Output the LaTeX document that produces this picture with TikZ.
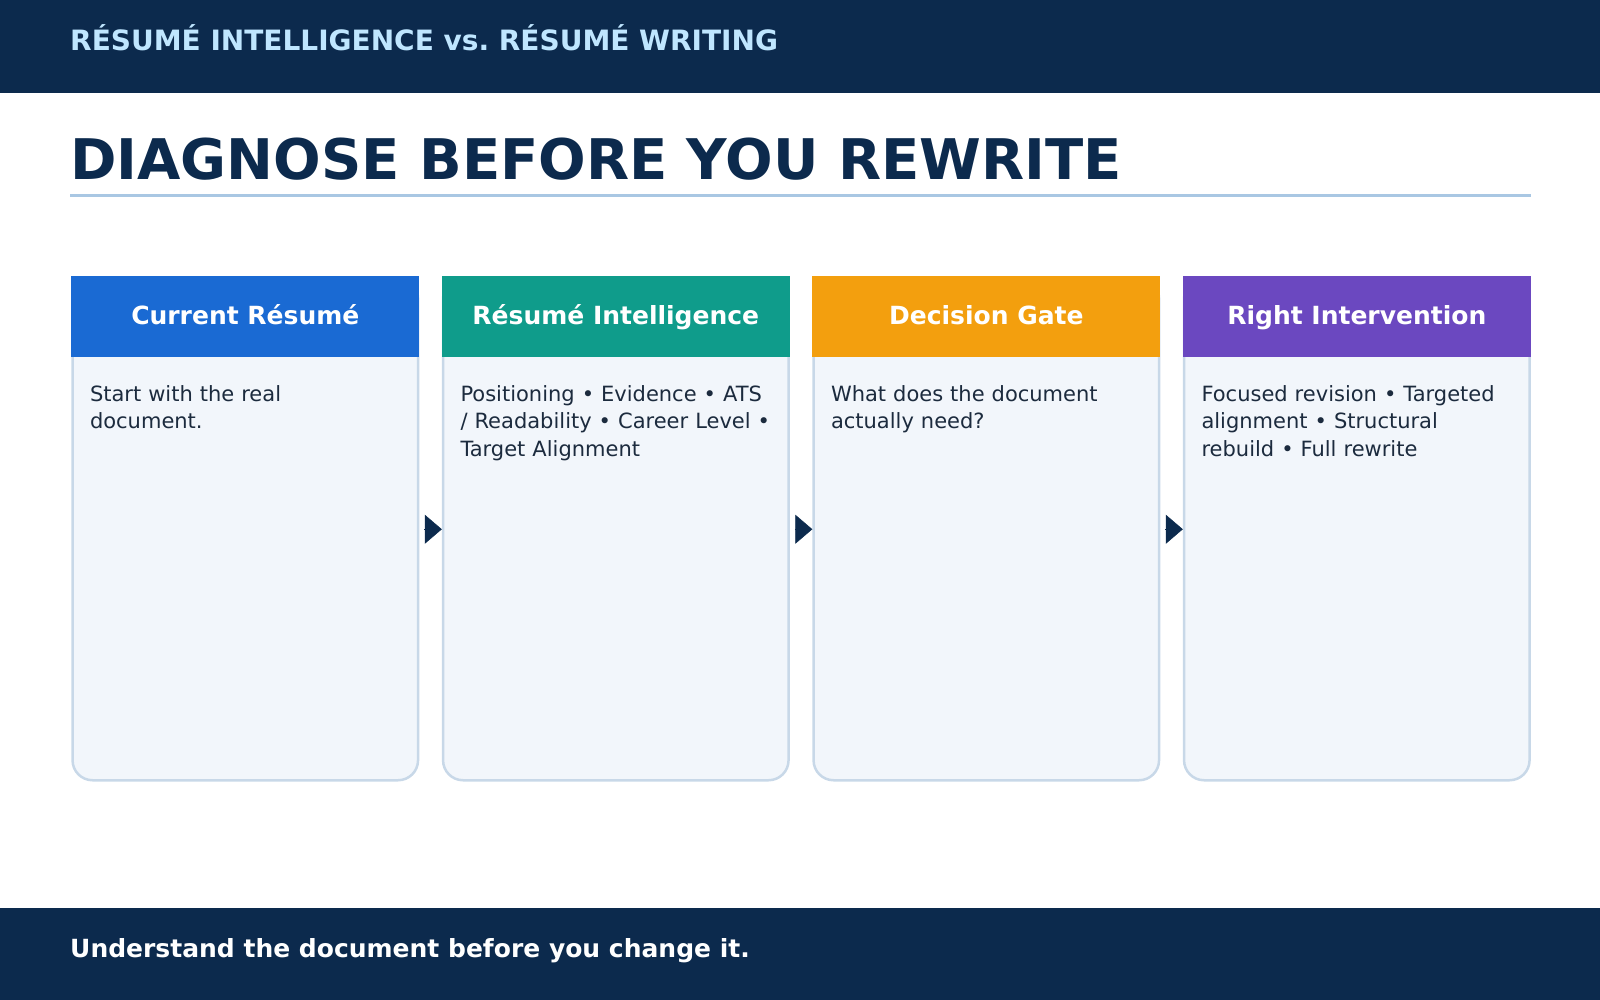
\documentclass[tikz,border=0pt]{standalone}
\usepackage{fontspec}
\setmainfont{DejaVu Sans}
\usetikzlibrary{arrows.meta,positioning}

\definecolor{navy}{HTML}{0C2A4D}
\definecolor{paleblue}{HTML}{BFE6FF}
\definecolor{rulecol}{HTML}{A9C7E3}
\definecolor{cardfill}{HTML}{F2F6FB}
\definecolor{cardline}{HTML}{C8D8E8}
\definecolor{bluehead}{HTML}{1A6AD3}
\definecolor{tealhead}{HTML}{0F9C8B}
\definecolor{orangehead}{HTML}{F39F0E}
\definecolor{purplehead}{HTML}{6B48C0}
\definecolor{bodytext}{HTML}{1C2B3E}

\tikzset{
  card/.style={draw=cardline, line width=2.5pt, fill=cardfill, rounded corners=20pt,
    minimum width=345.5pt, minimum height=502pt, inner sep=0pt, anchor=north west},
  cardhead/.style={minimum width=348pt, minimum height=81pt, inner sep=0pt, anchor=north,
    text height=21pt, text depth=5pt,
    text=white, font=\fontsize{25}{30}\selectfont\bfseries},
  cardtext/.style={anchor=base west, inner sep=0pt, text width=320pt, align=left,
    text=bodytext, font=\fontsize{21}{27.6}\selectfont},
  flowarrow/.style={-{Triangle[length=17pt,width=29pt]}, navy, line width=0.5pt, shorten <=5pt}
}

\begin{document}
\frenchspacing
\begin{tikzpicture}[x=1pt,y=-1pt]
    \useasboundingbox (0,0) rectangle (1600,1000);

    % Barra superiore
    \fill[navy] (0,0) rectangle (1600,93);
    \node[anchor=base west, inner sep=0pt, text=paleblue, font=\fontsize{28}{33}\selectfont\bfseries]
        (kicker) at (70,51) {RÉSUMÉ INTELLIGENCE vs. RÉSUMÉ WRITING};

    % Titolo
    \node[anchor=base west, inner sep=0pt, text=navy, font=\fontsize{56}{67}\selectfont\bfseries]
        (title) at (70,180) {DIAGNOSE BEFORE YOU REWRITE};
    \draw[rulecol, line width=3pt] (70,196) -- (1531,196);

    % Schede
    \node[card] (c1) at (71.3,277) {};
    \node[card] (c2) at (441.8,277) {};
    \node[card] (c3) at (812.3,277) {};
    \node[card] (c4) at (1182.8,277) {};

    % Intestazioni
    \node[cardhead, fill=bluehead] (h1) at ([yshift=1.25pt]c1.north) {Current Résumé};
    \node[cardhead, fill=tealhead] (h2) at ([yshift=1.25pt]c2.north) {Résumé Intelligence};
    \node[cardhead, fill=orangehead] (h3) at ([yshift=1.25pt]c3.north) {Decision Gate};
    \node[cardhead, fill=purplehead] (h4) at ([yshift=1.25pt]c4.north) {Right Intervention};

    % Testi
    \node[cardtext] (t1) at ([shift={(18.5,124)}]c1.north west) {Start with the real\\document.};
    \node[cardtext] (t2) at ([shift={(18.5,124)}]c2.north west) {Positioning • Evidence • ATS\\/ Readability • Career Level •\\Target Alignment};
    \node[cardtext] (t3) at ([shift={(18.5,124)}]c3.north west) {What does the document\\actually need?};
    \node[cardtext] (t4) at ([shift={(18.5,124)}]c4.north west) {Focused revision • Targeted\\alignment • Structural\\rebuild • Full rewrite};

    % Frecce
    \draw[flowarrow] (c1.east) -- (c2.west);
    \draw[flowarrow] (c2.east) -- (c3.west);
    \draw[flowarrow] (c3.east) -- (c4.west);

    % Barra inferiore
    \fill[navy] (0,908) rectangle (1600,1000);
    \node[anchor=base west, inner sep=0pt, text=white, font=\fontsize{25}{30}\selectfont\bfseries]
        (footer) at (70,957) {Understand the document before you change it.};
\end{tikzpicture}
\end{document}
